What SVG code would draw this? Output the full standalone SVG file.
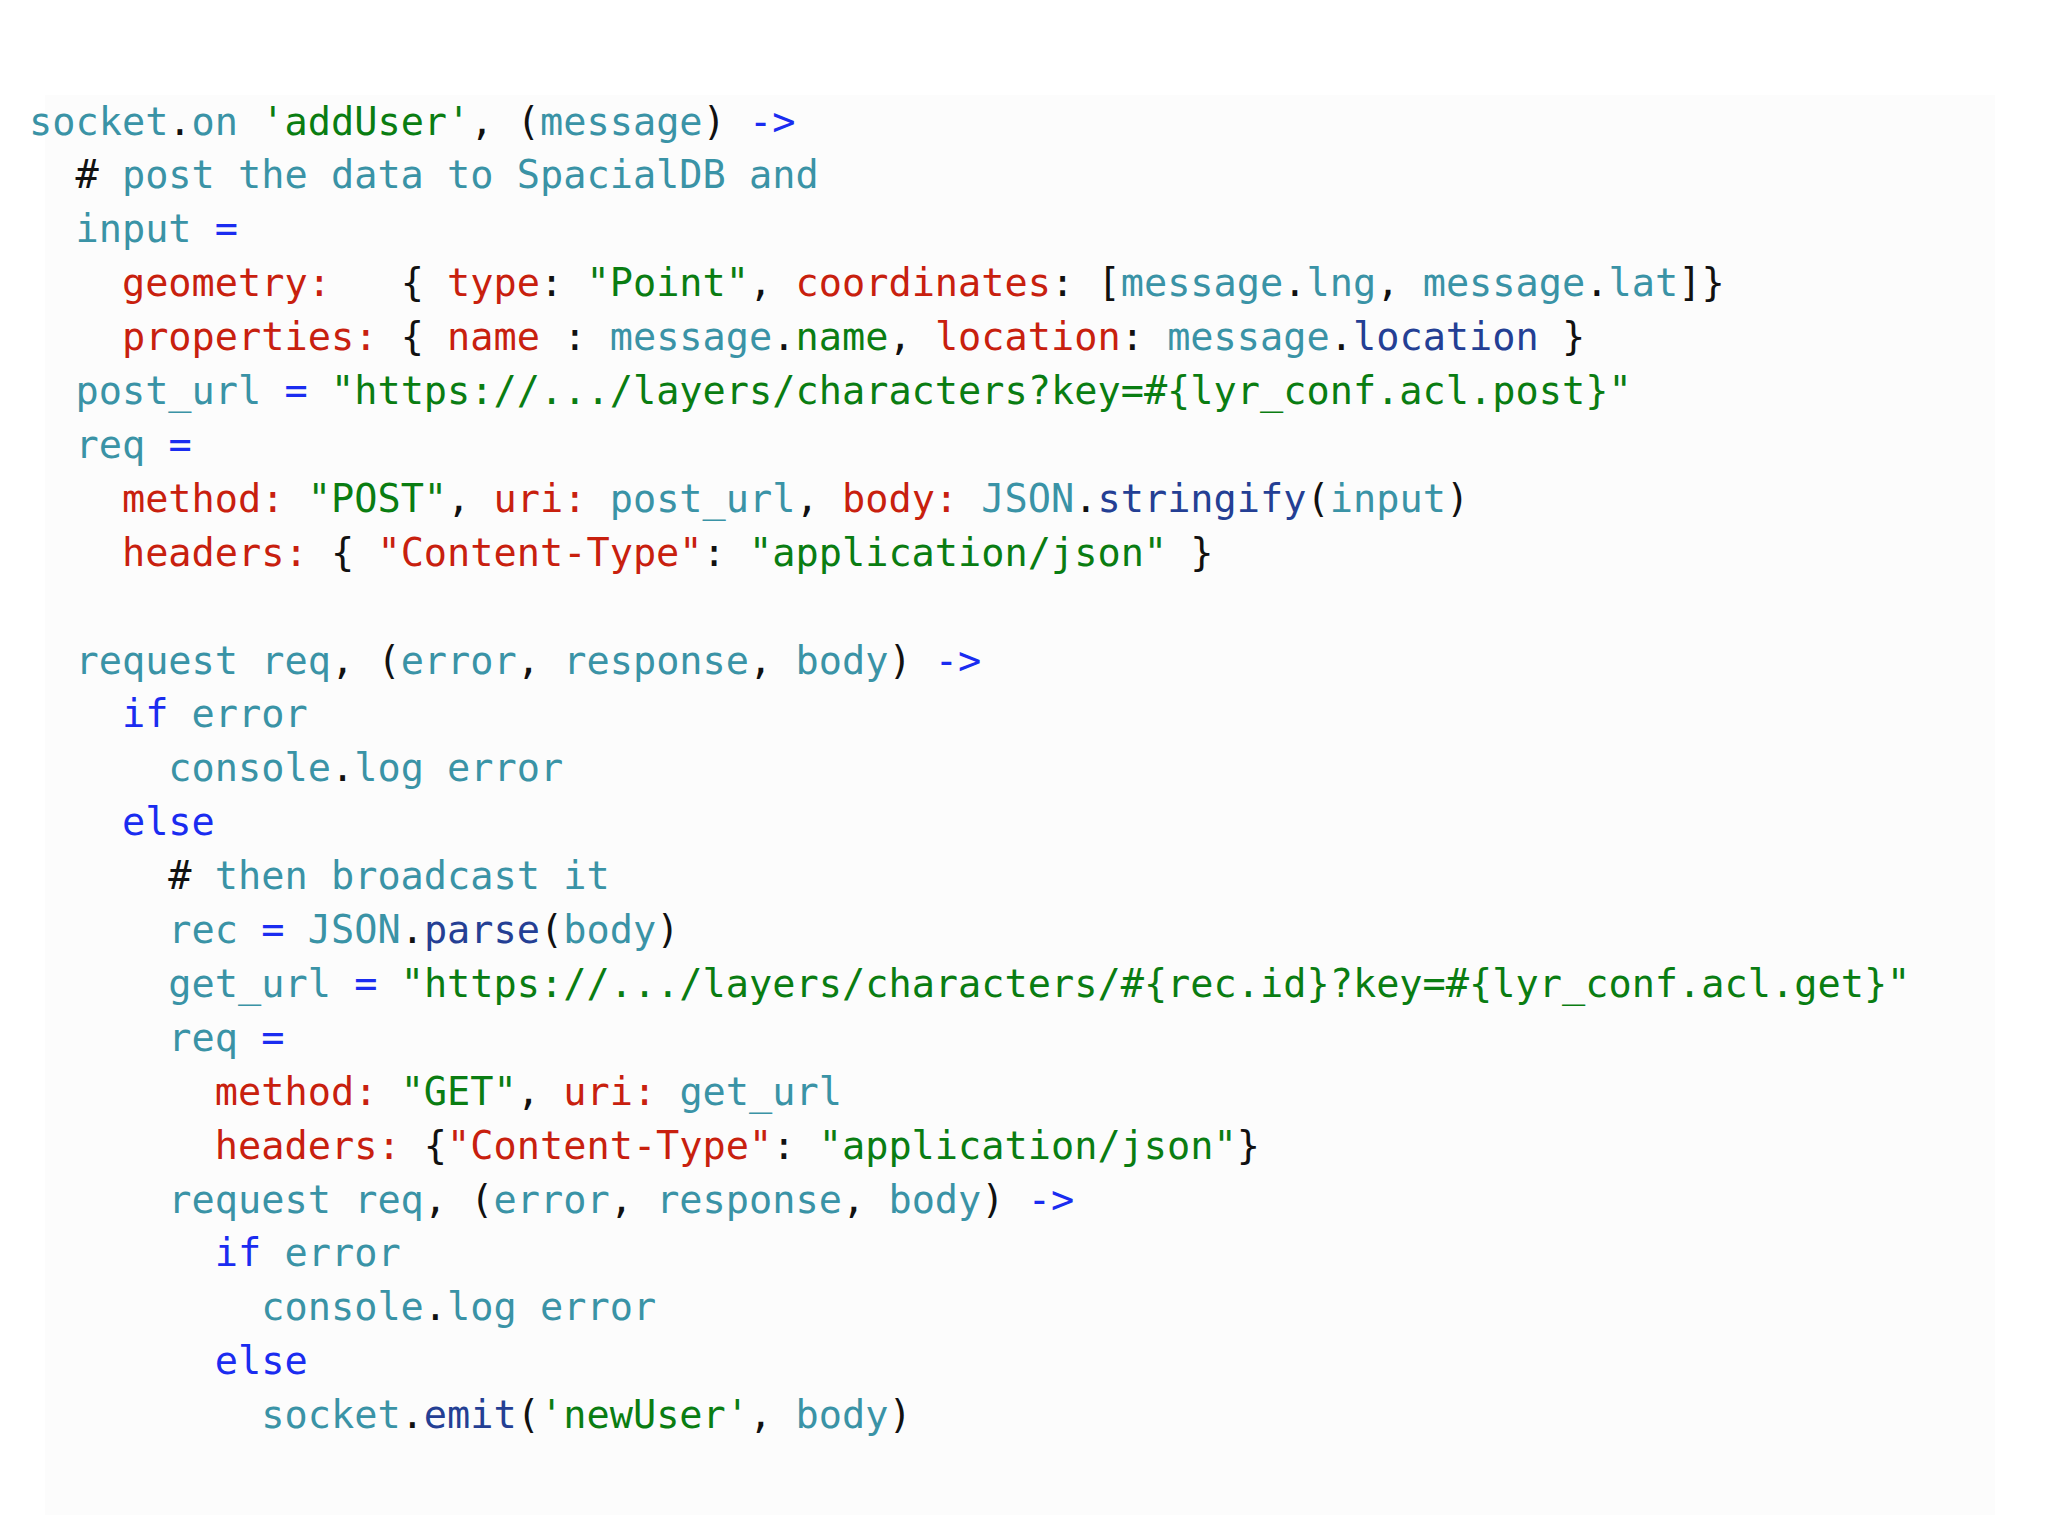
<svg xmlns="http://www.w3.org/2000/svg" width="2048" height="1536" viewBox="0 0 2048 1536">
<style>
text{font-family:"DejaVu Sans Mono","Liberation Mono",monospace;font-size:38.6px;fill:#111;white-space:pre}
.t{fill:#3a93a6}.g{fill:#0a7d12}.r{fill:#c8200e}.b{fill:#1a2cf0}.d{fill:#243f94}
</style>
<rect width="2048" height="1536" fill="#fff"/>
<rect x="45" y="95" width="1950" height="1420" fill="#fcfcfc"/>
<g id="code" xml:space="preserve">
<text x="29" y="134.5"><tspan class="t">socket</tspan>.<tspan class="t">on</tspan> <tspan class="g">'addUser'</tspan>, (<tspan class="t">message</tspan>) <tspan class="b">-&gt;</tspan></text>
<text x="29" y="188.4">  # <tspan class="t">post the data to SpacialDB and</tspan></text>
<text x="29" y="242.3">  <tspan class="t">input</tspan> <tspan class="b">=</tspan></text>
<text x="29" y="296.2">    <tspan class="r">geometry:</tspan>   { <tspan class="r">type</tspan>: <tspan class="g">"Point"</tspan>, <tspan class="r">coordinates</tspan>: [<tspan class="t">message</tspan>.<tspan class="t">lng</tspan>, <tspan class="t">message</tspan>.<tspan class="t">lat</tspan>]}</text>
<text x="29" y="350.1">    <tspan class="r">properties:</tspan> { <tspan class="r">name</tspan> : <tspan class="t">message</tspan>.<tspan class="g">name</tspan>, <tspan class="r">location</tspan>: <tspan class="t">message</tspan>.<tspan class="d">location</tspan> }</text>
<text x="29" y="404">  <tspan class="t">post_url</tspan> <tspan class="b">=</tspan> <tspan class="g">"https://.../layers/characters?key=#{lyr_conf.acl.post}"</tspan></text>
<text x="29" y="457.9">  <tspan class="t">req</tspan> <tspan class="b">=</tspan></text>
<text x="29" y="511.8">    <tspan class="r">method:</tspan> <tspan class="g">"POST"</tspan>, <tspan class="r">uri:</tspan> <tspan class="t">post_url</tspan>, <tspan class="r">body:</tspan> <tspan class="t">JSON</tspan>.<tspan class="d">stringify</tspan>(<tspan class="t">input</tspan>)</text>
<text x="29" y="565.7">    <tspan class="r">headers:</tspan> { <tspan class="r">"Content-Type"</tspan>: <tspan class="g">"application/json"</tspan> }</text>
<text x="29" y="673.5">  <tspan class="t">request req</tspan>, (<tspan class="t">error</tspan>, <tspan class="t">response</tspan>, <tspan class="t">body</tspan>) <tspan class="b">-&gt;</tspan></text>
<text x="29" y="727.4">    <tspan class="b">if</tspan> <tspan class="t">error</tspan></text>
<text x="29" y="781.3">      <tspan class="t">console</tspan>.<tspan class="t">log error</tspan></text>
<text x="29" y="835.2">    <tspan class="b">else</tspan></text>
<text x="29" y="889.1">      # <tspan class="t">then broadcast it</tspan></text>
<text x="29" y="943">      <tspan class="t">rec</tspan> <tspan class="b">=</tspan> <tspan class="t">JSON</tspan>.<tspan class="d">parse</tspan>(<tspan class="t">body</tspan>)</text>
<text x="29" y="996.9">      <tspan class="t">get_url</tspan> <tspan class="b">=</tspan> <tspan class="g">"https://.../layers/characters/#{rec.id}?key=#{lyr_conf.acl.get}"</tspan></text>
<text x="29" y="1050.8">      <tspan class="t">req</tspan> <tspan class="b">=</tspan></text>
<text x="29" y="1104.7">        <tspan class="r">method:</tspan> <tspan class="g">"GET"</tspan>, <tspan class="r">uri:</tspan> <tspan class="t">get_url</tspan></text>
<text x="29" y="1158.6">        <tspan class="r">headers:</tspan> {<tspan class="r">"Content-Type"</tspan>: <tspan class="g">"application/json"</tspan>}</text>
<text x="29" y="1212.5">      <tspan class="t">request req</tspan>, (<tspan class="t">error</tspan>, <tspan class="t">response</tspan>, <tspan class="t">body</tspan>) <tspan class="b">-&gt;</tspan></text>
<text x="29" y="1266.4">        <tspan class="b">if</tspan> <tspan class="t">error</tspan></text>
<text x="29" y="1320.3">          <tspan class="t">console</tspan>.<tspan class="t">log error</tspan></text>
<text x="29" y="1374.2">        <tspan class="b">else</tspan></text>
<text x="29" y="1428.1">          <tspan class="t">socket</tspan>.<tspan class="d">emit</tspan>(<tspan class="g">'newUser'</tspan>, <tspan class="t">body</tspan>)</text>
</g>
</svg>
